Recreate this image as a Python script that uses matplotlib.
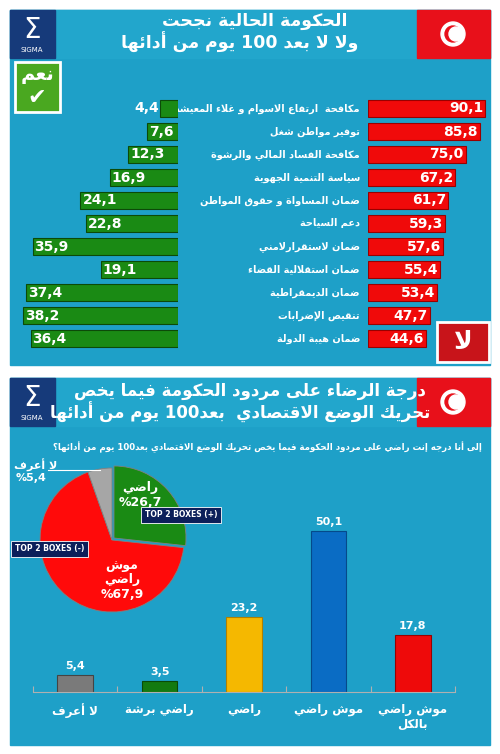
import re
import matplotlib
matplotlib.use("Agg")
import matplotlib.pyplot as plt
from matplotlib.patches import Rectangle, Circle, Wedge

# ---------- Arabic shaping ----------
FORMS = {
 'ء':(0xFE80,),'آ':(0xFE81,0xFE82),'أ':(0xFE83,0xFE84),'ؤ':(0xFE85,0xFE86),
 'إ':(0xFE87,0xFE88),'ئ':(0xFE89,0xFE8A,0xFE8B,0xFE8C),'ا':(0xFE8D,0xFE8E),
 'ب':(0xFE8F,0xFE90,0xFE91,0xFE92),'ة':(0xFE93,0xFE94),'ت':(0xFE95,0xFE96,0xFE97,0xFE98),
 'ث':(0xFE99,0xFE9A,0xFE9B,0xFE9C),'ج':(0xFE9D,0xFE9E,0xFE9F,0xFEA0),
 'ح':(0xFEA1,0xFEA2,0xFEA3,0xFEA4),'خ':(0xFEA5,0xFEA6,0xFEA7,0xFEA8),
 'د':(0xFEA9,0xFEAA),'ذ':(0xFEAB,0xFEAC),'ر':(0xFEAD,0xFEAE),'ز':(0xFEAF,0xFEB0),
 'س':(0xFEB1,0xFEB2,0xFEB3,0xFEB4),'ش':(0xFEB5,0xFEB6,0xFEB7,0xFEB8),
 'ص':(0xFEB9,0xFEBA,0xFEBB,0xFEBC),'ض':(0xFEBD,0xFEBE,0xFEBF,0xFEC0),
 'ط':(0xFEC1,0xFEC2,0xFEC3,0xFEC4),'ظ':(0xFEC5,0xFEC6,0xFEC7,0xFEC8),
 'ع':(0xFEC9,0xFECA,0xFECB,0xFECC),'غ':(0xFECD,0xFECE,0xFECF,0xFED0),
 'ف':(0xFED1,0xFED2,0xFED3,0xFED4),'ق':(0xFED5,0xFED6,0xFED7,0xFED8),
 'ك':(0xFED9,0xFEDA,0xFEDB,0xFEDC),'ل':(0xFEDD,0xFEDE,0xFEDF,0xFEE0),
 'م':(0xFEE1,0xFEE2,0xFEE3,0xFEE4),'ن':(0xFEE5,0xFEE6,0xFEE7,0xFEE8),
 'ه':(0xFEE9,0xFEEA,0xFEEB,0xFEEC),'و':(0xFEED,0xFEEE),'ى':(0xFEEF,0xFEF0),
 'ي':(0xFEF1,0xFEF2,0xFEF3,0xFEF4),
}
LAM_ALEF = {'ا':(0xFEFB,0xFEFC),'أ':(0xFEF7,0xFEF8),'إ':(0xFEF9,0xFEFA),'آ':(0xFEF5,0xFEF6)}

def joins_next(c):
    return c in FORMS and len(FORMS[c]) == 4

def shape(s):
    chars = list(s)
    out = []
    i = 0
    n = len(chars)
    while i < n:
        c = chars[i]
        if c not in FORMS:
            out.append(c); i += 1; continue
        prev = chars[i-1] if i > 0 else ''
        jp = joins_next(prev) and i > 0
        if c == 'ل' and i + 1 < n and chars[i+1] in LAM_ALEF:
            f = LAM_ALEF[chars[i+1]]
            out.append(chr(f[1] if jp else f[0])); i += 2; continue
        nxt = chars[i+1] if i + 1 < n else ''
        jn = joins_next(c) and nxt in FORMS
        f = FORMS[c]
        if len(f) == 1:
            g = f[0]
        elif len(f) == 2:
            g = f[1] if jp else f[0]
        else:
            if jp and jn: g = f[3]
            elif jp: g = f[1]
            elif jn: g = f[2]
            else: g = f[0]
        out.append(chr(g)); i += 1
    r = ''.join(out)[::-1]
    r = re.sub(r'[0-9][0-9,.]*', lambda m: m.group()[::-1], r)
    return r.replace('(', '\0').replace(')', '(').replace('\0', ')')

AR = dict(family='DejaVu Sans', fontweight='bold')

# ---------- data ----------
issues = ["مكافحة  ارتفاع الاسوام و غلاء المعيشة", "توفير مواطن شغل", "مكافحة الفساد المالي والرشوة",
          "سياسة التنمية الجهوية", "ضمان المساواة و حقوق المواطن", "دعم السياحة", "ضمان لاستقرارلامني",
          "ضمان استقلالية القضاء", "ضمان الديمقراطية", "تنقيص الإضرابات", "ضمان هيبة الدولة"]
yes_vals = [4.4, 7.6, 12.3, 16.9, 24.1, 22.8, 35.9, 19.1, 37.4, 38.2, 36.4]
no_vals = [90.1, 85.8, 75.0, 67.2, 61.7, 59.3, 57.6, 55.4, 53.4, 47.7, 44.6]

pie_labels = ["راضي", "موش راضي", "لا أعرف"]
pie_vals = [26.7, 67.9, 5.4]
pie_colors = ['#1a8a14', '#ff0a0a', '#a6a6a6']

cats = ["لا أعرف", "راضي برشة", "راضي", "موش راضي", "موش راضي\nبالكل"]
cat_vals = [5.4, 3.5, 23.2, 50.1, 17.8]
cat_colors = ['#7a7a7a', '#137a10', '#f5b800', '#0a6cc4', '#ee0a0a']

def fmt(v):
    return f"{v:.1f}".replace('.', ',')

W, H = 500, 754
fig = plt.figure(figsize=(5, 7.54), dpi=100)
fig.patch.set_facecolor('white')
bg = fig.add_axes([0, 0, 1, 1]); bg.set_xlim(0, W); bg.set_ylim(H, 0); bg.axis('off')

BLUE = '#1ea0c8'
def panel(y0, y1):
    bg.add_patch(Rectangle((10, y0), 480, y1 - y0, color=BLUE, zorder=0))
    bg.add_patch(Rectangle((10, y0), 480, 48, color='#22a6cc', zorder=0))
    bg.add_patch(Rectangle((10, y0), 45, 48, color='#163a7a', zorder=1))
    bg.text(32, y0 + 20, 'Σ', color='white', fontsize=20, ha='center', va='center')
    bg.text(32, y0 + 40, 'SIGMA', color='white', fontsize=5, ha='center', va='center')
    bg.add_patch(Rectangle((417, y0), 73, 48, color='#e8101a', zorder=1))
    bg.add_patch(Circle((453, y0 + 24), 12, color='white', zorder=2))
    bg.add_patch(Circle((453, y0 + 24), 8, color='#e8101a', zorder=3))
    bg.add_patch(Circle((456, y0 + 24), 7, color='white', zorder=4))

panel(10, 365)
panel(378, 745)

bg.text(255, 21, shape("الحكومة الحالية نجحت"), color='white', fontsize=12.5, ha='center', va='center', **AR)
bg.text(240, 42, shape("ولا لا بعد 100 يوم من أدائها"), color='white', fontsize=12.5, ha='center', va='center', **AR)
bg.add_patch(Rectangle((15, 62), 45, 50, color='#4aa820', ec='white', lw=2, zorder=2))
bg.text(37, 75, shape("نعم"), color='white', fontsize=14, ha='center', va='center', zorder=3, **AR)
bg.text(37, 98, '✔', color='white', fontsize=16, ha='center', va='center', zorder=3)
bg.add_patch(Rectangle((437, 322), 52, 40, color='#c8141a', ec='white', lw=2, zorder=2))
bg.text(463, 342, shape("لا"), color='white', fontsize=18, ha='center', va='center', zorder=3, **AR)

# top bars
top_y, top_h = 97, 253
axg = fig.add_axes([20/W, 1-(top_y+top_h)/H, 158/W, top_h/H])
axr = fig.add_axes([368/W, 1-(top_y+top_h)/H, 120/W, top_h/H])
rows = list(range(len(issues)))
for ax in (axg, axr):
    ax.set_ylim(len(issues)-0.5, -0.5); ax.axis('off'); ax.patch.set_alpha(0)
axg.set_xlim(39, 0); axr.set_xlim(0, 92.3)
axg.barh(rows, yes_vals, height=0.72, color='#1a8a14', edgecolor='#0c4a08', lw=0.8)
axr.barh(rows, no_vals, height=0.72, color='#f00a0a', edgecolor='#900', lw=0.8)
for r, v in zip(rows, yes_vals):
    if v < 6:
        axg.text(v + 0.3, r, fmt(v), color='white', fontsize=10, fontweight='bold', ha='right', va='center')
    else:
        axg.text(v - 0.5, r, fmt(v), color='white', fontsize=10, fontweight='bold', ha='left', va='center')
for r, v in zip(rows, no_vals):
    axr.text(v - 1.5, r, fmt(v), color='white', fontsize=10, fontweight='bold', ha='right', va='center')
    bg.text(360, top_y + (r + 0.5) * top_h / len(issues), shape(issues[r]), color='white',
            fontsize=7, ha='right', va='center', **AR)

# bottom header
bg.text(250, 391, shape("درجة الرضاء على مردود الحكومة فيما يخص"), color='white', fontsize=12, ha='center', va='center', **AR)
bg.text(240, 412, shape("تحريك الوضع الاقتصادي  بعد100 يوم من أدائها"), color='white', fontsize=12, ha='center', va='center', **AR)
bg.text(482, 447, shape("إلى أنا درجه إنت راضي على مردود الحكومة فيما يخص تحريك الوضع الاقتصادي بعد100 يوم من أدائها؟"),
        color='white', fontsize=6.2, ha='right', va='center', **AR)

# pie (y axis inverted: angles grow clockwise on screen)
cx, cy, R = 112, 540, 72
start = -90
for lab, v, c in zip(pie_labels, pie_vals, pie_colors):
    ang = v / 100 * 360
    dx = 2 if c == pie_colors[0] else 0
    bg.add_patch(Wedge((cx + dx, cy - dx), R, start, start + ang,
                       color=c, ec='#808080', lw=0.6, zorder=3))
    start += ang
bg.text(140, 488, shape("راضي"), color='white', fontsize=9, ha='center', va='center', zorder=5, **AR)
bg.text(140, 503, '%26,7', color='white', fontsize=9, fontweight='bold', ha='center', va='center', zorder=5)
bg.text(122, 566, shape("موش"), color='white', fontsize=9, ha='center', va='center', zorder=5, **AR)
bg.text(122, 580, shape("راضي"), color='white', fontsize=9, ha='center', va='center', zorder=5, **AR)
bg.text(122, 594, '%67,9', color='white', fontsize=9, fontweight='bold', ha='center', va='center', zorder=5)
bg.text(14, 465, shape("لا أعرف"), color='white', fontsize=8, ha='left', va='center', zorder=5, **AR)
bg.text(16, 478, '%5,4', color='white', fontsize=8, fontweight='bold', ha='left', va='center', zorder=5)
bg.plot([48, 100], [470, 470], color='white', lw=0.8, zorder=5)
for x, y, t in [(145, 515, 'TOP 2 BOXES (+)'), (15, 549, 'TOP 2 BOXES (-)')]:
    bg.text(x, y, t, color='white', fontsize=5.5, fontweight='bold', va='center', zorder=6,
            bbox=dict(boxstyle='square,pad=0.5', fc='#0c1f5a', ec='white', lw=0.6))

# bottom bars
base_y = 692
axb = fig.add_axes([33/W, 1-base_y/H, 422/W, 170/H])
axb.patch.set_alpha(0)
xs = list(range(len(cats)))
axb.bar(xs, cat_vals, width=0.42, color=cat_colors, edgecolor=['#444', '#0a4a08', '#b08000', '#054a8a', '#900'], lw=0.8)
axb.set_xlim(-0.5, 4.5); axb.set_ylim(0, 170/3.22)
for s in ['top', 'right', 'left']:
    axb.spines[s].set_visible(False)
axb.spines['bottom'].set_color('#b0b0b0')
axb.set_yticks([])
axb.set_xticks([x + 0.5 for x in xs[:-1]] + [-0.5, 4.5], minor=False)
axb.set_xticklabels([])
axb.tick_params(axis='x', length=4, color='#b0b0b0', direction='in')
for x, v in zip(xs, cat_vals):
    axb.text(x, v + 1.2, fmt(v), color='white', fontsize=8, fontweight='bold', ha='center', va='bottom')
for x, c in zip(xs, cats):
    lines = c.split('\n')
    bg.text(33 + (x + 0.5) * 422 / 5, 703, '\n'.join(shape(l) for l in lines), color='white',
            fontsize=8.5, ha='center', va='top', linespacing=1.2, **AR)

fig.savefig('out.png', dpi=100, facecolor='white')
